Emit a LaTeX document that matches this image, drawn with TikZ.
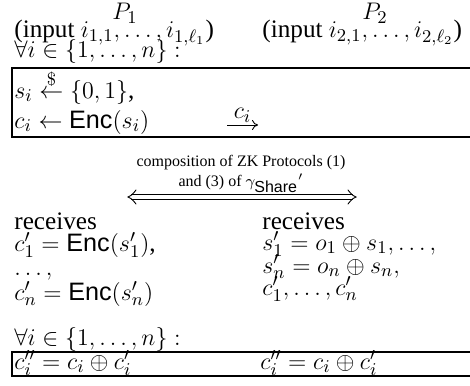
\documentclass[tikz,border=0pt]{standalone}
\usepackage[no-math]{fontspec}
\setmainfont{Liberation Serif}
\setsansfont{Liberation Sans}
\usetikzlibrary{arrows.meta}
\newcommand{\Enc}{\textsf{Enc}}
\begin{document}
\begin{tikzpicture}[x=0.5pt,y=-0.5pt,
  txt/.style={inner sep=0pt,anchor=base west,font=\fontsize{12.6}{14}\selectfont},
  ctr/.style={inner sep=0pt,anchor=base,font=\fontsize{12.6}{14}\selectfont},
  small/.style={inner sep=0pt,anchor=base,font=\fontsize{8}{10}\selectfont},
  frame/.style={line width=0.6pt},
  thin/.style={line width=0.45pt}]
\useasboundingbox (0,0) rectangle (470,385);
\node[ctr] (p1) at (125,20) {$P_1$};
\node[ctr] (p2) at (375,20) {$P_2$};
\node[txt] (in1) at (14,38) {(input $i_{1,1},\ldots,i_{1,\ell_1}$)};
\node[txt] (in2) at (262,38) {(input $i_{2,1},\ldots,i_{2,\ell_2}$)};
\node[txt] (fa1) at (14,58) {$\forall i\in\{1,\ldots,n\}:$};
\draw[frame] (480,68) -- (12,68) -- (12,137) -- (480,137);
\node[txt] (si) at (14,98) {$s_i \stackrel{\$}{\leftarrow} \{0,1\}$,};
\node[txt] (ci) at (14,128) {$c_i \leftarrow \Enc(s_i)$};
\coordinate (a1) at (227,125);
\coordinate (a2) at (258,125);
\draw[-{To[length=3pt,width=5pt]},thin] (a1) -- node[above=1pt,inner sep=0pt,font=\fontsize{12.6}{14}\selectfont] (cil) {$c_i$} (a2);
\node[small] (comp1) at (241,166) {composition of ZK Protocols (1)};
\node[small] (comp2) at (241,186) {and (3) of $\gamma_{\textsf{Share}}{}'$};
\coordinate (d1) at (128,197);
\coordinate (d2) at (356,197);
\draw[thin] ([shift={(3,-2.5)}]d1) -- ([shift={(-3,-2.5)}]d2);
\draw[thin] ([shift={(3,2.5)}]d1) -- ([shift={(-3,2.5)}]d2);
\draw[thin,line cap=round] ([shift={(8,-7)}]d1) .. controls ([shift={(4,-2)}]d1) .. (d1) .. controls ([shift={(4,2)}]d1) .. ([shift={(8,7)}]d1);
\draw[thin,line cap=round] ([shift={(-8,-7)}]d2) .. controls ([shift={(-4,-2)}]d2) .. (d2) .. controls ([shift={(-4,2)}]d2) .. ([shift={(-8,7)}]d2);
\node[txt] (rc1) at (14,229) {receives};
\node[txt] (rc2) at (262,229) {receives};
\node[txt] (l1) at (14,251) {$c'_1=\Enc(s'_1)$,};
\node[txt] (l2) at (14,275) {$\ldots,$};
\node[txt] (l3) at (14,300) {$c'_n=\Enc(s'_n)$};
\node[txt] (r1) at (262,250) {$s'_1=o_1\oplus s_1,\ldots,$};
\node[txt] (r2) at (262,273) {$s'_n=o_n\oplus s_n,$};
\node[txt] (r3) at (262,295) {$c'_1,\ldots,c'_n$};
\node[txt] (fa2) at (14,345) {$\forall i\in\{1,\ldots,n\}:$};
\draw[frame] (480,352) -- (12,352) -- (12,376) -- (480,376);
\node[txt] (cc1) at (14,369) {$c''_i=c_i\oplus c'_i$};
\node[txt] (cc2) at (260,369) {$c''_i=c_i\oplus c'_i$};
\end{tikzpicture}
\end{document}
